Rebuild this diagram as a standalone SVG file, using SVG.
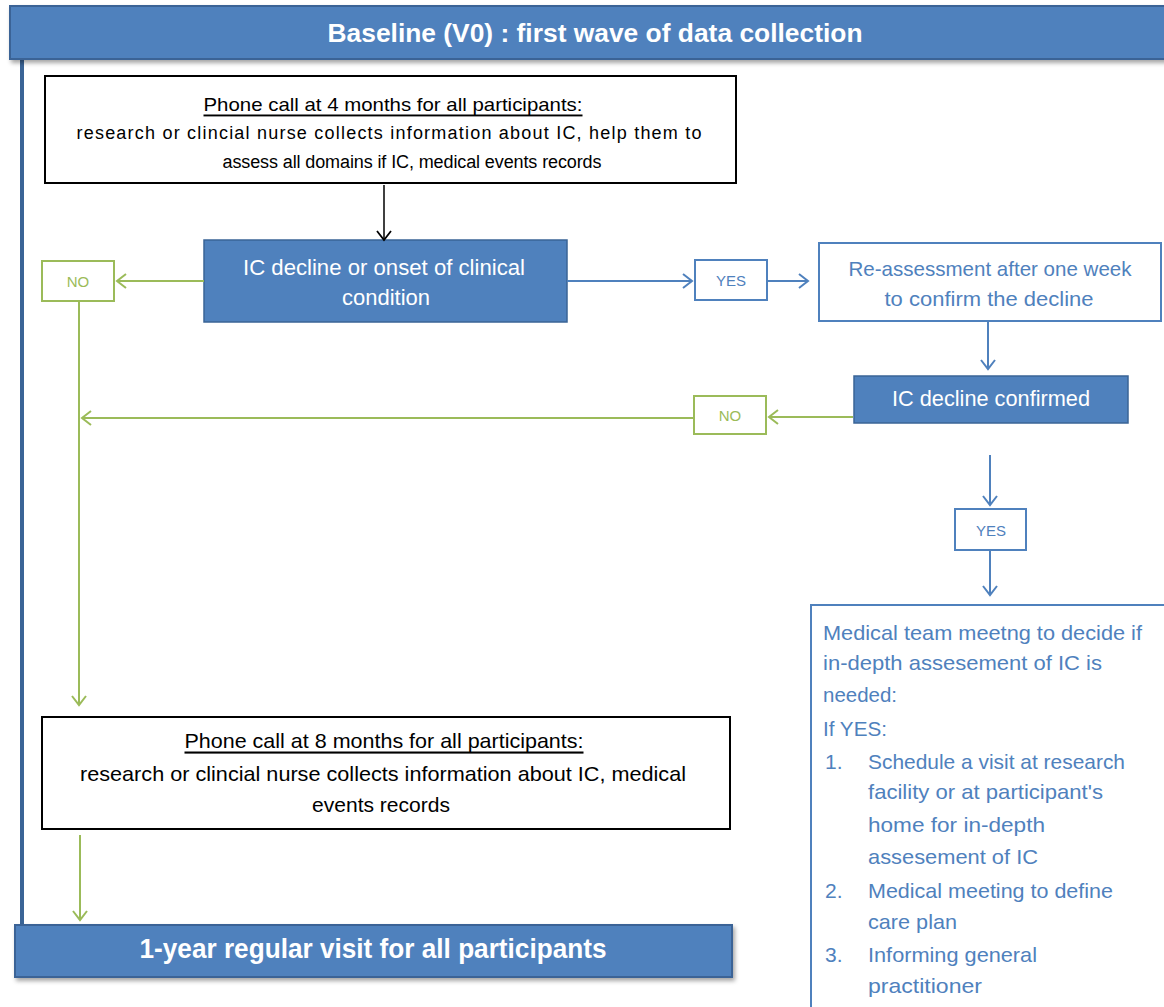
<svg xmlns="http://www.w3.org/2000/svg" width="1164" height="1007" viewBox="0 0 1164 1007">
  <style>
    text { font-family: "Liberation Sans", "DejaVu Sans", sans-serif; }
    .band { fill: #4F81BD; stroke: #3A6496; stroke-width: 2; }
    .band-text { fill: #ffffff; font-weight: bold; text-anchor: middle; dominant-baseline: central; }
    .black-box { fill: #ffffff; stroke: #000000; stroke-width: 2; }
    .black-text { fill: #000000; text-anchor: middle; dominant-baseline: central; }
    .solid-box { fill: #4F81BD; stroke: #3A6496; stroke-width: 1.5; }
    .solid-text { fill: #ffffff; font-size: 21.5px; text-anchor: middle; dominant-baseline: central; }
    .blue-box { fill: #ffffff; stroke: #4F81BD; stroke-width: 2; }
    .blue-text { fill: #4F81BD; font-size: 21px; dominant-baseline: central; }
    .green-box { fill: #ffffff; stroke: #9BBB59; stroke-width: 2; }
    .green-text { fill: #9BBB59; font-size: 15px; text-anchor: middle; dominant-baseline: central; }
    .small-blue { fill: #4F81BD; font-size: 15px; text-anchor: middle; dominant-baseline: central; }
    .c-black { stroke: #000000; stroke-width: 1.5; fill: none; marker-end: url(#arrow-black); }
    .c-blue { stroke: #4F81BD; stroke-width: 2; fill: none; marker-end: url(#arrow-blue); }
    .c-green-arrow { stroke: #9BBB59; stroke-width: 2; fill: none; marker-end: url(#arrow-green); }
  </style>
  <defs>
    <marker id="arrow-black" markerUnits="userSpaceOnUse" markerWidth="14" markerHeight="16" refX="11" refY="8" orient="auto">
      <path d="M2,1 L11,8 L2,15" fill="none" stroke="#000000" stroke-width="1.8"/>
    </marker>
    <marker id="arrow-blue" markerUnits="userSpaceOnUse" markerWidth="14" markerHeight="16" refX="11" refY="8" orient="auto">
      <path d="M2,1 L11,8 L2,15" fill="none" stroke="#4F81BD" stroke-width="2"/>
    </marker>
    <marker id="arrow-green" markerUnits="userSpaceOnUse" markerWidth="14" markerHeight="16" refX="11" refY="8" orient="auto">
      <path d="M2,1 L11,8 L2,15" fill="none" stroke="#9BBB59" stroke-width="2"/>
    </marker>
    <filter id="shadow" x="-5%" y="-20%" width="110%" height="150%">
      <feDropShadow dx="2" dy="3" stdDeviation="2" flood-color="#000000" flood-opacity="0.35"/>
    </filter>
  </defs>

  <rect width="1164" height="1007" fill="#ffffff"/>

  <!-- left frame rail -->
  <line x1="22" y1="58" x2="22" y2="926" stroke="#3A6496" stroke-width="4"/>

  <g id="baseline-header">
    <rect class="band" x="10" y="6" width="1160" height="53" filter="url(#shadow)"/>
    <text class="band-text" x="595" y="33" font-size="26" textLength="535" lengthAdjust="spacingAndGlyphs">Baseline (V0) : first wave of data collection</text>
  </g>

  <g id="phone-call-4">
    <rect class="black-box" x="45" y="76" width="691" height="107"/>
    <text class="black-text" x="393" y="104" font-size="19" text-decoration="underline" textLength="379" lengthAdjust="spacingAndGlyphs">Phone call at 4 months for all participants:</text>
    <text class="black-text" x="389" y="133" font-size="18" textLength="625" lengthAdjust="spacing">research or clincial nurse collects information about IC, help them to</text>
    <text class="black-text" x="412" y="162" font-size="18" textLength="379" lengthAdjust="spacing">assess all domains if IC, medical events records</text>
  </g>

  <g id="ic-decline">
    <rect class="solid-box" x="204" y="240" width="363" height="82"/>
    <text class="solid-text" x="384" y="268" textLength="282" lengthAdjust="spacingAndGlyphs">IC decline or onset of clinical</text>
    <text class="solid-text" x="386" y="298" textLength="88" lengthAdjust="spacingAndGlyphs">condition</text>
  </g>

  <g id="no-1">
    <rect class="green-box" x="42" y="261" width="72" height="40"/>
    <text class="green-text" x="78" y="281">NO</text>
  </g>

  <g id="yes-1">
    <rect class="blue-box" x="695" y="260" width="72" height="40"/>
    <text class="small-blue" x="731" y="280">YES</text>
  </g>

  <g id="re-assessment">
    <rect class="blue-box" x="819" y="243" width="342" height="78"/>
    <text class="blue-text" x="990" y="268" text-anchor="middle" textLength="283" lengthAdjust="spacingAndGlyphs">Re-assessment after one week</text>
    <text class="blue-text" x="989" y="298" text-anchor="middle" textLength="209" lengthAdjust="spacingAndGlyphs">to confirm the decline</text>
  </g>

  <g id="ic-decline-confirmed">
    <rect class="solid-box" x="854" y="376" width="274" height="47"/>
    <text class="solid-text" x="991" y="399" textLength="198" lengthAdjust="spacingAndGlyphs">IC decline confirmed</text>
  </g>

  <g id="no-2">
    <rect class="green-box" x="694" y="396" width="72" height="38"/>
    <text class="green-text" x="730" y="415">NO</text>
  </g>

  <g id="yes-2">
    <rect class="blue-box" x="955" y="509" width="71" height="41"/>
    <text class="small-blue" x="991" y="530">YES</text>
  </g>

  <g id="medical-team">
    <rect class="blue-box" x="811" y="605" width="360" height="410"/>
    <text class="blue-text" x="823" y="632" textLength="319" lengthAdjust="spacingAndGlyphs">Medical team meetng to decide if</text>
    <text class="blue-text" x="823" y="662" textLength="279" lengthAdjust="spacingAndGlyphs">in-depth assesement of IC is</text>
    <text class="blue-text" x="823" y="694" textLength="74" lengthAdjust="spacingAndGlyphs">needed:</text>
    <text class="blue-text" x="823" y="728" textLength="64" lengthAdjust="spacingAndGlyphs">If YES:</text>
    <text class="blue-text" x="825" y="761">1.</text>
    <text class="blue-text" x="868" y="761" textLength="257" lengthAdjust="spacingAndGlyphs">Schedule a visit at research</text>
    <text class="blue-text" x="868" y="791" textLength="235" lengthAdjust="spacingAndGlyphs">facility or at participant's</text>
    <text class="blue-text" x="868" y="824" textLength="177" lengthAdjust="spacingAndGlyphs">home for in-depth</text>
    <text class="blue-text" x="868" y="856" textLength="170" lengthAdjust="spacingAndGlyphs">assesement of IC</text>
    <text class="blue-text" x="825" y="890">2.</text>
    <text class="blue-text" x="868" y="890" textLength="245" lengthAdjust="spacingAndGlyphs">Medical meeting to define</text>
    <text class="blue-text" x="868" y="921" textLength="89" lengthAdjust="spacingAndGlyphs">care plan</text>
    <text class="blue-text" x="825" y="954">3.</text>
    <text class="blue-text" x="868" y="954" textLength="169" lengthAdjust="spacingAndGlyphs">Informing general</text>
    <text class="blue-text" x="868" y="985" textLength="114" lengthAdjust="spacingAndGlyphs">practitioner</text>
  </g>

  <g id="phone-call-8">
    <rect class="black-box" x="42" y="717" width="688" height="112"/>
    <text class="black-text" x="384" y="740" font-size="21" text-decoration="underline" textLength="399" lengthAdjust="spacingAndGlyphs">Phone call at 8 months for all participants:</text>
    <text class="black-text" x="383" y="773" font-size="21" textLength="606" lengthAdjust="spacingAndGlyphs">research or clincial nurse collects information about IC, medical</text>
    <text class="black-text" x="381" y="804" font-size="21" textLength="138" lengthAdjust="spacingAndGlyphs">events records</text>
  </g>

  <g id="one-year-visit">
    <rect class="band" x="15" y="925" width="717" height="52" filter="url(#shadow)"/>
    <text class="band-text" x="373" y="948" font-size="28" textLength="467" lengthAdjust="spacingAndGlyphs">1-year regular visit for all participants</text>
  </g>

  <g id="connectors">
    <line class="c-black" x1="384" y1="185" x2="384" y2="240"/>
    <line class="c-green-arrow" x1="204" y1="281" x2="117" y2="281"/>
    <line class="c-blue" x1="567" y1="281" x2="692" y2="281"/>
    <line class="c-blue" x1="767" y1="281" x2="808" y2="281"/>
    <line class="c-blue" x1="988" y1="321" x2="988" y2="369"/>
    <line class="c-green-arrow" x1="853" y1="417" x2="769" y2="417"/>
    <line class="c-green-arrow" x1="694" y1="418" x2="82" y2="418"/>
    <line class="c-green-arrow" x1="79" y1="301" x2="79" y2="705"/>
    <line class="c-blue" x1="990" y1="455" x2="990" y2="505"/>
    <line class="c-blue" x1="990" y1="550" x2="990" y2="595"/>
    <line class="c-green-arrow" x1="80" y1="835" x2="80" y2="920"/>
  </g>
</svg>
